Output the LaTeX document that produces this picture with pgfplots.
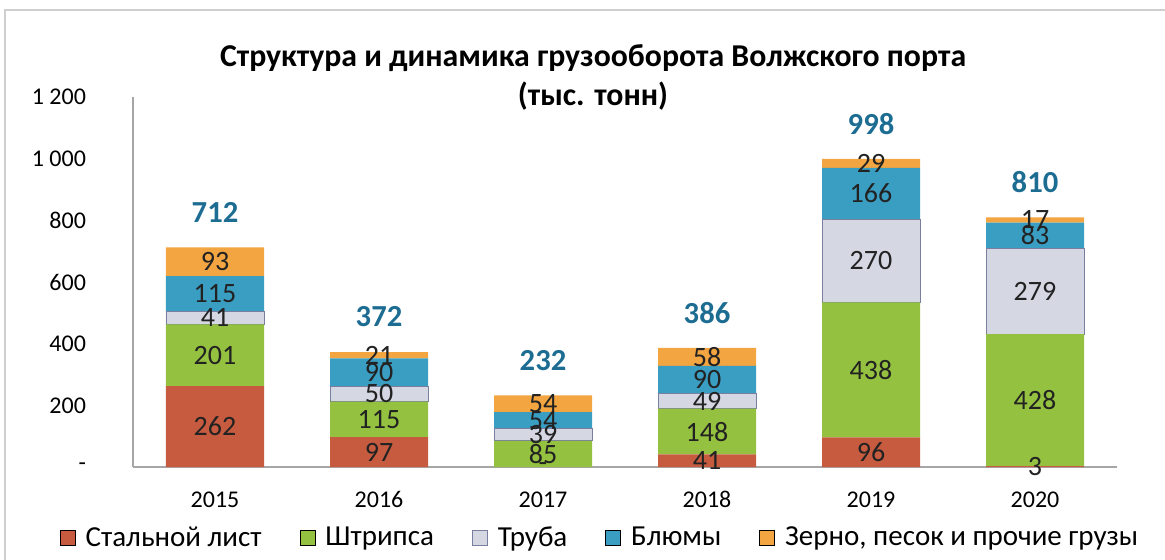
\documentclass[border=0pt]{standalone}
\usepackage{pgfplots}
\usepackage{pgfplotstable}
\pgfplotsset{compat=1.18}
\usepackage{fontspec}
\setmainfont{Carlito}
\definecolor{cSteel}{HTML}{C65B3F}
\definecolor{cStrip}{HTML}{94C13F}
\definecolor{cPipe}{HTML}{D5D7E3}
\definecolor{cPipeEdge}{HTML}{7A7FA0}
\definecolor{cBloom}{HTML}{3A9DC2}
\definecolor{cOther}{HTML}{F2A541}
\definecolor{cTotal}{HTML}{1D6D93}
\definecolor{cAxis}{HTML}{A6A6A6}
\definecolor{cFrame}{HTML}{CFCFCF}
\definecolor{cLabel}{HTML}{222222}

\pgfplotstableread{
x steel strip pipe bloom other
0 262 201 41 115 93
1 97 115 50 90 21
2 0 85 39 54 54
3 41 148 49 90 58
4 96 438 270 166 29
5 3 428 279 83 17
}\cargo

\pgfplotstableread{
x y lbl
0 131 262
0 362.5 201
0 483.5 41
0 561.5 115
0 665.5 93
1 48.5 97
1 154.5 115
1 237 50
1 307 90
1 362.5 21
2 0 -
2 42.5 85
2 104.5 39
2 151 54
2 205 54
3 20.5 41
3 115 148
3 213.5 49
3 283 90
3 357 58
4 48 96
4 315 438
4 669 270
4 887 166
4 984.5 29
5 1.5 3
5 217 428
5 570.5 279
5 751.5 83
5 801.5 17
}\seglabels

\pgfplotstableread{
x y lbl
0 712 712
1 373 372
2 232 232
3 386 386
4 999 998
5 810 810
}\totals

\begin{document}
\begin{tikzpicture}
\useasboundingbox (-66.5pt,-46pt) rectangle (516pt,233.5pt);
\draw[cFrame, line width=0.6pt] (-64pt,-60pt) -- (-64pt,228.5pt) -- (540pt,228.5pt);
\begin{axis}[
  at={(0pt,0pt)}, anchor=south west,
  width=492pt, height=185pt, scale only axis,
  ybar stacked, bar width=49pt,
  xmin=-0.5, xmax=5.5, ymin=0, ymax=1200,
  axis lines*=left,
  axis line style={cAxis, line width=0.6pt},
  xtick={0,1,2,3,4,5}, xticklabels={2015,2016,2017,2018,2019,2020},
  ytick={0,200,400,600,800,1000,1200},
  yticklabels={-,200,400,600,800,1 000,1 200},
  major tick length=0pt,
  tick label style={font=\fontsize{12}{13}\selectfont, black},
  yticklabel style={xshift=-20pt},
  xticklabel style={yshift=-8pt, text height=8.5pt, text depth=0pt},
  legend style={at={(axis description cs:0.4756,-0.192)}, anchor=center,
    draw=none, fill=none, legend columns=5,
    font=\fontsize{14.5}{15}\selectfont,
    /tikz/every odd column/.append style={column sep=3pt},
    /tikz/every even column/.append style={column sep=17pt}},
  legend image code/.code={\draw[#1] (0pt,-3.75pt) rectangle (7.5pt,3.75pt);},
]
\addplot[fill=cSteel, draw=none] table[x=x,y=steel]{\cargo};
\addplot[fill=cStrip, draw=none] table[x=x,y=strip]{\cargo};
\addplot[fill=cPipe, draw=cPipeEdge, line width=0.4pt] table[x=x,y=pipe]{\cargo};
\addplot[fill=cBloom, draw=none] table[x=x,y=bloom]{\cargo};
\addplot[fill=cOther, draw=none] table[x=x,y=other]{\cargo};
\legend{Стальной лист, Штрипса, Труба, Блюмы, {Зерно, песок и прочие грузы}}
\end{axis}
\begin{axis}[
  at={(0pt,0pt)}, anchor=south west,
  width=492pt, height=185pt, scale only axis,
  xmin=-0.5, xmax=5.5, ymin=0, ymax=1200,
  hide axis, clip=false,
]
\addplot[draw=none, nodes near coords, point meta=explicit symbolic,
  every node near coord/.append style={anchor=center, text=cLabel,
    font=\fontsize{14}{15}\selectfont, inner sep=0pt}]
  table[x=x,y=y,meta=lbl]{\seglabels};
\addplot[draw=none, nodes near coords, point meta=explicit symbolic,
  every node near coord/.append style={anchor=center, text=cTotal,
    font=\fontsize{15.3}{16}\selectfont\bfseries, inner sep=0pt, yshift=17.5pt}]
  table[x=x,y=y,meta=lbl]{\totals};
\end{axis}
\node[align=center, font=\fontsize{15.9}{19.5}\selectfont\bfseries, text=black]
  at (230pt,194.75pt) {Структура и динамика грузооборота Волжского порта\\(тыс. тонн)};
\end{tikzpicture}
\end{document}
